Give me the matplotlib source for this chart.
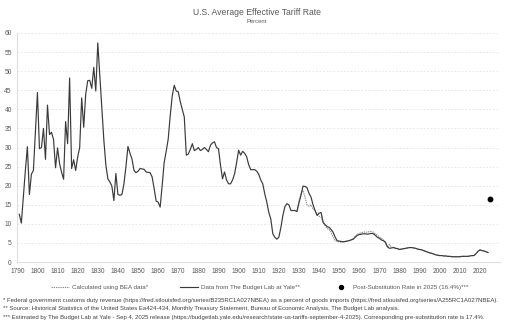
import matplotlib
matplotlib.use("Agg")
import matplotlib.pyplot as plt
from matplotlib import font_manager

# customs duties as a percent of imports, 1791-2024
yale_years = list(range(1791, 2025))
yale_rate = [
    # 1791-1800
    12.5, 10.2, 17.0, 24.0, 30.2, 17.7, 23.0, 24.0, 34.0, 44.4,
    # 1801-1810
    29.7, 30.0, 35.0, 26.9, 41.1, 33.4, 34.0, 32.1, 24.7, 29.9,
    # 1811-1820
    25.8, 23.5, 21.7, 36.8, 31.0, 48.2, 24.5, 26.8, 24.0, 27.5,
    # 1821-1830
    30.0, 43.0, 35.3, 44.0, 47.5, 47.6, 45.5, 51.0, 44.8, 57.4,
    # 1831-1840
    49.0, 40.3, 32.0, 25.5, 21.8, 21.0, 19.9, 16.1, 23.2, 17.7,
    # 1841-1850
    17.5, 17.7, 20.5, 25.0, 30.3, 28.5, 27.0, 24.0, 23.4, 23.8,
    # 1851-1860
    24.5, 24.4, 24.3, 23.6, 23.5, 23.4, 22.3, 19.3, 16.0, 15.7,
    # 1861-1870
    14.4, 20.0, 26.1, 29.0, 32.2, 38.3, 43.5, 46.3, 44.8, 44.6,
    # 1871-1880
    42.0, 40.0, 38.0, 28.0, 28.3, 29.5, 31.0, 29.2, 29.5, 30.0,
    # 1881-1890
    29.2, 29.5, 30.0, 29.5, 28.9, 30.6, 31.2, 31.5, 30.0, 29.7,
    # 1891-1900
    25.4, 21.8, 23.6, 21.5, 20.5, 20.5, 21.5, 23.1, 26.0, 29.3,
    # 1901-1910
    28.0, 29.0, 28.5, 27.6, 25.5, 24.2, 24.2, 24.2, 23.8, 23.0,
    # 1911-1920
    21.5, 20.5, 17.9, 15.7, 13.0, 11.3, 7.4, 6.5, 6.0, 6.5,
    # 1921-1930
    9.0, 12.2, 14.5, 15.3, 15.0, 13.5, 13.5, 13.5, 13.2, 15.5,
    # 1931-1940
    17.5, 19.9, 19.8, 19.5, 18.0, 17.0, 15.0, 13.5, 12.2, 12.8,
    # 1941-1950
    13.0, 10.4, 9.8, 9.3, 9.1, 8.5, 7.8, 6.5, 5.6, 5.5,
    # 1951-1960
    5.4, 5.3, 5.4, 5.5, 5.6, 5.8, 6.0, 6.5, 7.0, 7.2,
    # 1961-1970
    7.3, 7.4, 7.4, 7.3, 7.4, 7.5, 7.4, 7.0, 6.5, 6.2,
    # 1971-1980
    5.8, 5.6, 5.2, 4.0, 3.6, 3.7, 3.8, 3.6, 3.5, 3.3,
    # 1981-1990
    3.4, 3.5, 3.6, 3.7, 3.8, 3.8, 3.7, 3.6, 3.4, 3.3,
    # 1991-2000
    3.2, 3.0, 2.8, 2.6, 2.4, 2.3, 2.1, 1.9, 1.8, 1.7,
    # 2001-2010
    1.7, 1.6, 1.6, 1.5, 1.5, 1.4, 1.4, 1.4, 1.4, 1.4,
    # 2011-2020
    1.5, 1.5, 1.5, 1.5, 1.6, 1.7, 1.7, 2.2, 2.8, 3.2,
    # 2021-2024
    3.0, 2.9, 2.7, 2.5,
]

# BEA customs duties / goods imports, 1929-2024
bea_years = list(range(1929, 2025))
bea_rate = [
    13.5, 15.8, 18.0, 18.8, 17.0, 15.0, 14.6, 15.0, 13.8, 13.6, 12.8,
    12.0, 11.8, 10.5, 9.5, 8.8, 8.6, 7.8, 6.5, 5.6, 5.4,
    5.3, 5.2, 5.3, 5.4, 5.5, 5.7, 5.9, 6.2, 6.8, 7.3,
    7.5, 7.7, 7.8, 7.9, 7.8, 8.0, 8.0, 7.8, 7.4, 7.0,
    6.6, 6.2, 5.8, 5.0, 3.9, 4.6, 3.9, 3.8, 3.7, 3.5,
    3.3, 3.4, 3.5, 3.6, 3.7, 3.8, 3.8, 3.7, 3.6, 3.4,
    3.3, 3.2, 3.0, 2.8, 2.6, 2.4, 2.3, 2.1, 1.9, 1.8,
    1.7, 1.7, 1.6, 1.6, 1.5, 1.5, 1.4, 1.4, 1.4, 1.4,
    1.4, 1.5, 1.5, 1.5, 1.5, 1.6, 1.7, 1.7, 2.2, 2.8,
    3.2, 3.0, 2.9, 2.7, 2.5,
]

post_sub_year = 2025
post_sub_rate = 16.4

xtick_years = list(range(1790, 2021, 10))
yticks = list(range(0, 61, 5))

footnotes = [
    "* Federal government customs duty revenue (https://fred.stlouisfed.org/series/B235RC1A027NBEA) as a percent of goods imports (https://fred.stlouisfed.org/series/A255RC1A027NBEA).",
    "** Source: Historical Statistics of the United States Ea424-434, Monthly Treasury Statement, Bureau of Economic Analysis, The Budget Lab analysis.",
    "*** Estimated by The Budget Lab at Yale - Sep 4, 2025 release (https://budgetlab.yale.edu/research/state-us-tariffs-september-4-2025). Corresponding pre-substitution rate is 17.4%.",
]

installed = {f.name for f in font_manager.fontManager.ttflist}
narrow = "Liberation Sans Narrow" if "Liberation Sans Narrow" in installed else "Liberation Sans"
plt.rcParams["font.family"] = [narrow, "DejaVu Sans"]

txt = "#595959"
grid_c = "#dedede"

fig = plt.figure(figsize=(5.14, 3.33), dpi=100)
ax = fig.add_axes([0.0337, 0.213, 0.9393, 0.688])

ax.plot(bea_years, bea_rate, color="#8c8c8c", lw=0.8, ls=(0, (1.2, 0.8)),
        label="Calculated using BEA data*", zorder=3)
ax.plot(yale_years, yale_rate, color="#3a3a3a", lw=0.85,
        label="Data from The Budget Lab at Yale**", zorder=4)
ax.plot([post_sub_year], [post_sub_rate], "o", color="black", ms=3.2,
        label="Post-Substitution Rate in 2025 (16.4%)***", zorder=5)

ax.set_xlim(1790, 2030)
ax.set_ylim(0, 60)
ax.set_xticks(xtick_years)
ax.set_yticks(yticks)
ax.set_xticks(list(range(1790, 2031, 10)), minor=True)
ax.grid(which="minor", axis="x", color=grid_c, lw=0.5, ls=(0, (2.5, 2.5)))
ax.grid(which="major", axis="y", color=grid_c, lw=0.5, ls=(0, (2.5, 2.5)))
ax.tick_params(which="both", length=0, labelsize=4.8, colors=txt, pad=4)

for s in ["top", "right"]:
    ax.spines[s].set_visible(False)
ax.spines["left"].set_color(grid_c)
ax.spines["bottom"].set_color(grid_c)
ax.spines["left"].set_linewidth(0.8)
ax.spines["bottom"].set_linewidth(0.8)

fig.text(0.5, 0.963, "U.S. Average Effective Tariff Rate", ha="center", va="center",
         fontsize=6.2, color=txt)
fig.text(0.5, 0.934, "Percent", ha="center", va="center", fontsize=4.2, color=txt)

fig.legend(loc="center", bbox_to_anchor=(0.505, 0.138), ncol=3, frameon=False,
           fontsize=4.5, handlelength=2.8, columnspacing=5.2, labelcolor=txt,
           handletextpad=0.5, markerscale=0.9)

for i, line in enumerate(footnotes):
    fig.text(0.006, 0.099 - i * 0.026, line, fontsize=4.3, color="#404040",
             ha="left", va="center")

fig.savefig("out.png", dpi=100)
